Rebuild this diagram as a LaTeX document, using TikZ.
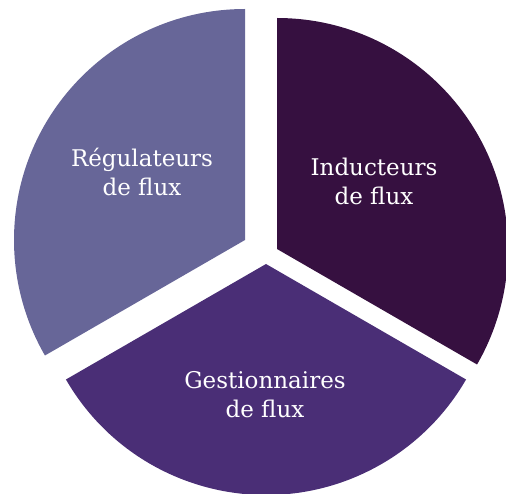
\documentclass[tikz,border=0pt]{standalone}
\usepackage{fontspec}
\setmainfont{DejaVu Serif}
\definecolor{regul}{RGB}{103,102,152}
\definecolor{induc}{RGB}{54,16,64}
\definecolor{gest}{RGB}{74,46,118}
\begin{document}
\begin{tikzpicture}[x=1pt,y=1pt,
    sectortext/.style={text=white,align=center,font=\fontsize{23}{29}\selectfont}]
    \useasboundingbox (0,0) rectangle (506,493);
    \coordinate (l) at (245,253);
    \coordinate (r) at (277,244);
    \coordinate (b) at (266,229);

    \fill[regul] (l) -- ++(90:231) arc(90:210:231) -- cycle;
    \fill[induc] (r) -- ++(90:231) arc(90:-30:231) -- cycle;
    \fill[gest] (b) -- ++(210:231) arc(210:330:231) -- cycle;

    \node[sectortext] (reg) at (142,321) {Régulateurs\\de flux};
    \node[sectortext] (ind) at (374,312) {Inducteurs\\de flux};
    \node[sectortext] (ges) at (265,98) {Gestionnaires\\de flux};
\end{tikzpicture}
\end{document}
